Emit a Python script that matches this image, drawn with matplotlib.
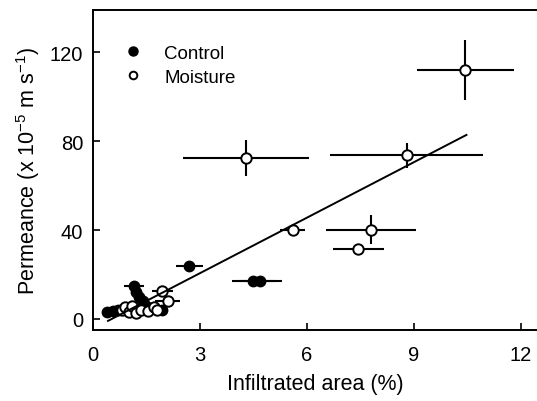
import numpy as np
import matplotlib
matplotlib.use("Agg")
import matplotlib.pyplot as plt

plt.rcParams['font.family'] = ['Liberation Sans', 'DejaVu Sans']
plt.rcParams['mathtext.fontset'] = 'custom'
plt.rcParams['mathtext.rm'] = 'Liberation Sans'
plt.rcParams['mathtext.it'] = 'Liberation Sans:italic'

# control (filled)
ctrl_x = [0.40, 0.55, 0.70, 0.85, 1.00, 1.15, 1.20, 1.30, 1.40, 1.50, 1.95, 2.70, 4.50, 4.70]
ctrl_y = [3.0, 3.5, 4.0, 4.5, 5.0, 15.0, 12.0, 10.0, 8.0, 6.0, 3.8, 24.0, 17.0, 17.0]
ctrl_xerr = [0.10, 0.10, 0.10, 0.10, 0.10, 0.28, 0.10, 0.10, 0.10, 0.10, 0.10, 0.38, 0.60, 0.60]
ctrl_yerr = [0.8, 0.8, 0.8, 0.8, 0.8, 1.0, 1.0, 1.0, 1.0, 1.0, 0.8, 1.0, 1.0, 1.0]

# moisture (open)
moist_x = [0.80, 0.90, 1.00, 1.10, 1.20, 1.35, 1.55, 1.70, 1.80, 1.95, 2.10, 5.60, 7.45, 7.80, 8.80, 4.30, 10.45]
moist_y = [4.0, 5.5, 3.0, 6.0, 2.5, 4.0, 3.5, 5.5, 4.0, 12.5, 8.0, 40.1, 31.5, 40.1, 73.7, 72.4, 112.0]
moist_xerr = [0.10, 0.10, 0.10, 0.10, 0.10, 0.10, 0.10, 0.10, 0.10, 0.30, 0.35, 0.35, 0.72, 1.26, 2.14, 1.77, 1.36]
moist_yerr = [0.8, 0.8, 0.8, 0.8, 0.8, 0.8, 0.8, 0.8, 0.8, 1.0, 2.0, 0.8, 1.0, 6.6, 5.6, 8.1, 13.5]

# regression line
slope = 8.32
intercept = -4.4
line_x = [0.42, 10.48]

fig = plt.figure(figsize=(5.37, 4.02), dpi=100)
ax = fig.add_axes([0.1732, 0.1766, 0.8268, 0.7960])

ax.errorbar(ctrl_x, ctrl_y, xerr=ctrl_xerr, yerr=ctrl_yerr, fmt='o', color='black',
            mfc='black', mec='black', ms=7.5, elinewidth=1.5, capsize=0, zorder=3)
ax.errorbar(moist_x, moist_y, xerr=moist_xerr, yerr=moist_yerr, fmt='o', color='black',
            mfc='white', mec='black', mew=1.4, ms=7.5, elinewidth=1.5, capsize=0, zorder=4)

lx = np.array(line_x)
ax.plot(lx, slope * lx + intercept, color='black', lw=1.4, zorder=5)

# legend
ax.plot([], [], 'o', color='black', ms=6.5, label='Control')
ax.plot([], [], 'o', mfc='white', mec='black', mew=1.4, ms=5.5, label='Moisture')
h, l = ax.get_legend_handles_labels()
ax.legend(h[-2:], l[-2:], loc='upper left', bbox_to_anchor=(0.053, 0.915), frameon=False,
          fontsize=13.5, handlelength=1.0, handletextpad=1.15, labelspacing=0.35,
          borderaxespad=0)

ax.set_xlim(0, 12.46)
ax.set_ylim(-5, 139)
ax.set_xticks([0, 3, 6, 9, 12])
ax.set_yticks([0, 40, 80, 120])
ax.tick_params(direction='in', length=5, width=1.2, labelsize=14.5)
ax.tick_params(axis='x', pad=11)
ax.tick_params(axis='y', pad=7)
for s in ['left', 'bottom', 'top']:
    ax.spines[s].set_linewidth(1.4)
ax.spines['right'].set_visible(False)

ax.set_xlabel('Infiltrated area (%)', fontsize=15.5, labelpad=6)
ax.set_ylabel('Permeance (x 10$^{-5}$ m s$^{-1}$)', fontsize=15.5, labelpad=6)

fig.savefig('out.png', dpi=100)
